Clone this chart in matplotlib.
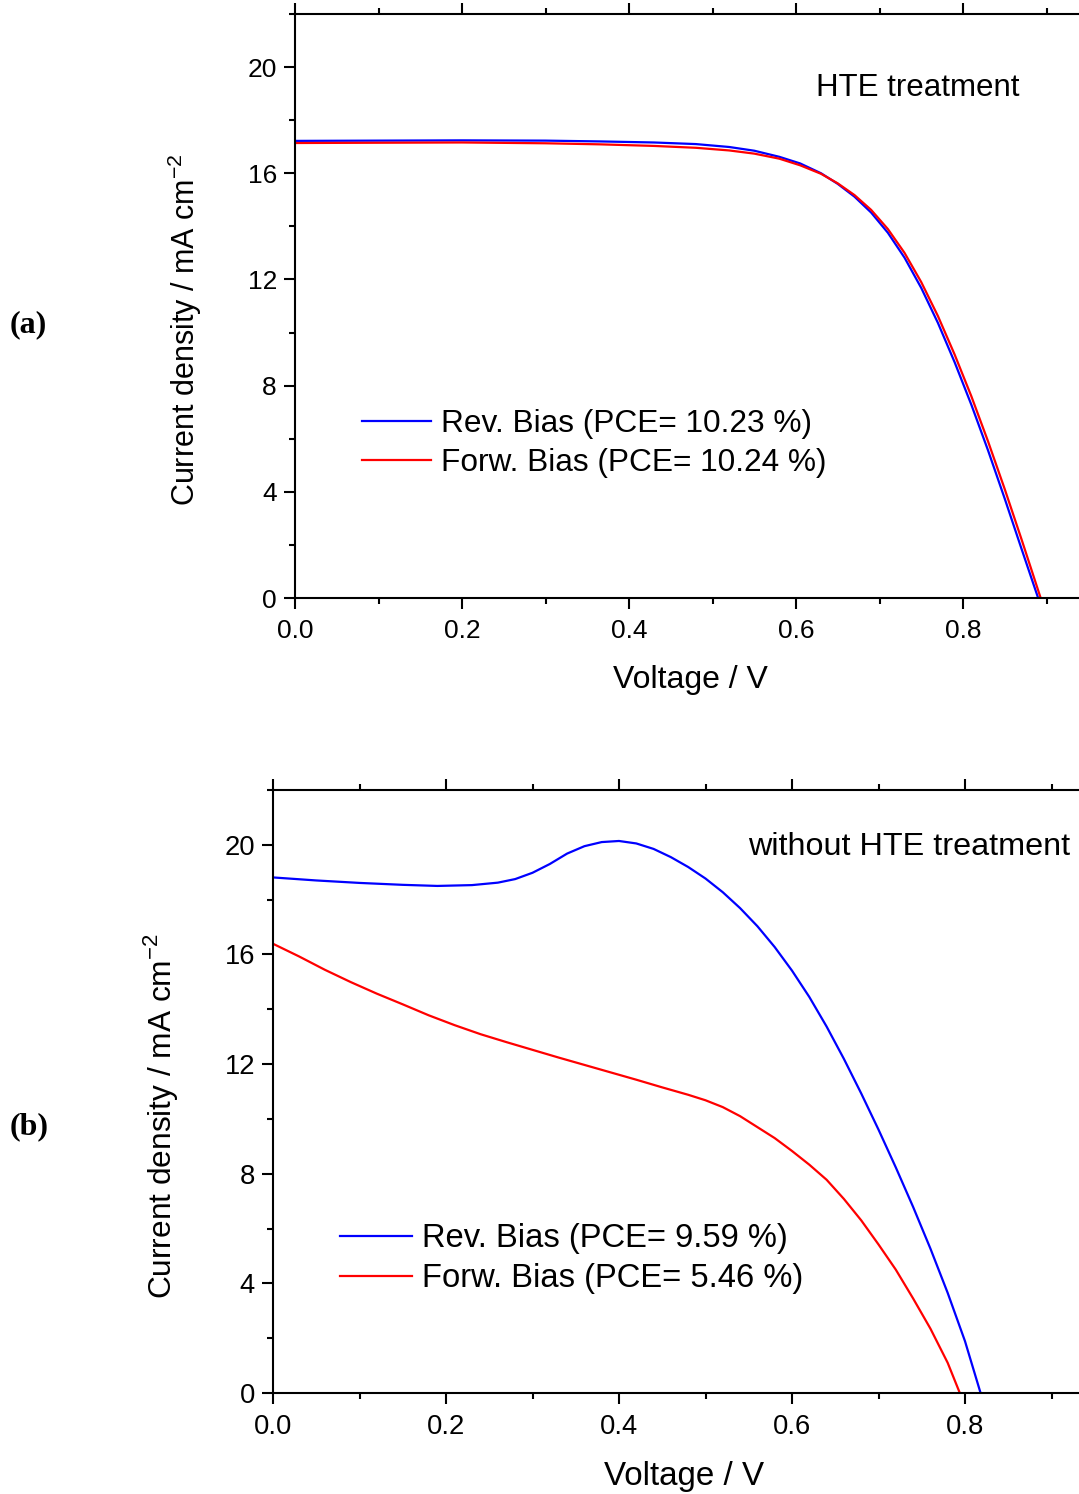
import numpy as np
import matplotlib
matplotlib.use("Agg")
import matplotlib.pyplot as plt
from matplotlib.ticker import MultipleLocator

plt.rcParams['font.family'] = ['Liberation Sans', 'DejaVu Sans']
plt.rcParams['mathtext.fontset'] = 'custom'
plt.rcParams['mathtext.rm'] = 'Liberation Sans'

# (a) with HTE treatment
va_rev = [0, 0.1, 0.2, 0.3, 0.365, 0.43, 0.48, 0.52, 0.55, 0.58, 0.605, 0.63, 0.65, 0.67,
          0.69, 0.71, 0.73, 0.75, 0.77, 0.79, 0.81, 0.83, 0.85, 0.87, 0.89]
ja_rev = [17.22, 17.23, 17.24, 17.23, 17.20, 17.16, 17.10, 16.99, 16.85, 16.62, 16.37, 16.0, 15.6, 15.12,
          14.52, 13.76, 12.82, 11.68, 10.36, 8.88, 7.28, 5.56, 3.74, 1.86, 0.0]
va_fwd = [0, 0.1, 0.2, 0.3, 0.365, 0.43, 0.48, 0.52, 0.55, 0.58, 0.605, 0.63, 0.65, 0.67,
          0.69, 0.71, 0.73, 0.75, 0.77, 0.79, 0.81, 0.83, 0.85, 0.87, 0.893]
ja_fwd = [17.14, 17.15, 17.16, 17.13, 17.09, 17.03, 16.96, 16.86, 16.74, 16.55, 16.3, 15.98, 15.62, 15.18,
          14.62, 13.9, 13.0, 11.9, 10.62, 9.17, 7.6, 5.9, 4.1, 2.22, 0.0]

# (b) without HTE treatment
vb_rev = [0, 0.05, 0.1, 0.15, 0.19, 0.23, 0.26, 0.28, 0.30, 0.32, 0.34, 0.36, 0.38, 0.40, 0.42,
          0.44, 0.46, 0.48, 0.50, 0.52, 0.54, 0.56, 0.58, 0.60, 0.62, 0.64, 0.66, 0.68, 0.70,
          0.72, 0.74, 0.76, 0.78, 0.80, 0.818]
jb_rev = [18.81, 18.70, 18.61, 18.54, 18.50, 18.53, 18.62, 18.75, 18.98, 19.3, 19.68, 19.95, 20.10, 20.14, 20.05,
          19.85, 19.55, 19.19, 18.77, 18.27, 17.69, 17.03, 16.27, 15.41, 14.45, 13.37, 12.19, 10.93, 9.61,
          8.23, 6.79, 5.27, 3.65, 1.89, 0.0]
vb_fwd = [0, 0.03, 0.06, 0.09, 0.12, 0.15, 0.18, 0.21, 0.24, 0.27, 0.30, 0.33, 0.36, 0.39, 0.42,
          0.45, 0.48, 0.50, 0.52, 0.54, 0.56, 0.58, 0.60, 0.62, 0.64, 0.66, 0.68, 0.70, 0.72,
          0.74, 0.76, 0.78, 0.794]
jb_fwd = [16.39, 15.93, 15.44, 14.99, 14.57, 14.18, 13.78, 13.42, 13.09, 12.80, 12.52, 12.24, 11.97, 11.70, 11.43,
          11.15, 10.88, 10.68, 10.43, 10.10, 9.70, 9.30, 8.83, 8.33, 7.78, 7.08, 6.30, 5.42, 4.5,
          3.45, 2.35, 1.1, 0.0]

labels_a = ['Rev. Bias (PCE= 10.23 %)', 'Forw. Bias (PCE= 10.24 %)']
labels_b = ['Rev. Bias (PCE= 9.59 %)', 'Forw. Bias (PCE= 5.46 %)']

W, H = 1079, 1494
fig = plt.figure(figsize=(W / 100, H / 100), dpi=100)


def px(x, y):
    return x / W, 1 - y / H


def make_panel(left, top, bottom, xmax, sc, vr, jr, vf, jf, labels, note, note_xy,
               leg_xy, ylab_xy, xlab_xy, tag, tag_xy):
    l, t = px(left, top)
    _, b = px(left, bottom)
    ax = fig.add_axes([l, b, 1 - l, t - b])
    ax.plot(vr, jr, color='#0000ff', lw=1.6, label=labels[0])
    ax.plot(vf, jf, color='#ff0000', lw=1.6, label=labels[1])
    ax.set_xlim(0, xmax)
    ax.set_ylim(0, 22)
    ax.xaxis.set_major_locator(MultipleLocator(0.2))
    ax.xaxis.set_minor_locator(MultipleLocator(0.1))
    ax.yaxis.set_major_locator(MultipleLocator(4))
    ax.yaxis.set_minor_locator(MultipleLocator(2))
    ax.xaxis.set_major_formatter(lambda v, p: f'{v:.1f}')
    ax.spines['right'].set_visible(False)
    for s in ['left', 'bottom', 'top']:
        ax.spines[s].set_linewidth(1.5)
    ax.tick_params(which='major', direction='out', length=8, width=1.5,
                   labelsize=19 * sc, pad=5)
    ax.tick_params(which='minor', direction='out', length=4.5, width=1.5)
    ax.tick_params(axis='x', which='both', top=True, labeltop=False)
    ax.tick_params(axis='x', which='major', pad=7)
    ax.xaxis.set_tick_params(which='both', length=2, top=True, bottom=False)
    ax.tick_params(axis='x', which='major', bottom=True, length=8)
    ax.tick_params(axis='x', which='minor', bottom=True, length=4.5)
    ax.text(*px(*note_xy), note, transform=fig.transFigure, fontsize=22.5 * sc,
            ha='right', va='center')
    ax.legend(loc='upper left', bbox_to_anchor=px(*leg_xy), bbox_transform=fig.transFigure,
              frameon=False, fontsize=22.8 * sc, handlelength=2.19, handletextpad=0.31,
              labelspacing=0.28, borderpad=0, borderaxespad=0)
    fig.text(*px(*ylab_xy), 'Current density / mA cm$^{-2}$', rotation=90,
             fontsize=22 * sc, ha='center', va='center')
    fig.text(*px(*xlab_xy), 'Voltage / V', fontsize=23 * sc, ha='center', va='center')
    fig.text(*px(*tag_xy), '(' + tag + ')', family='Liberation Serif', fontweight='bold',
             fontsize=23, ha='left', va='center')
    return ax


make_panel(295, 14, 598, (W - 295) / 835, 1.0, va_rev, ja_rev, va_fwd, ja_fwd, labels_a,
           'HTE treatment', (1020, 88), (362, 409), (185, 330), (690, 680), 'a', (10, 325))
make_panel(273, 790, 1393, (W - 273) / 865, 1.036, vb_rev, jb_rev, vb_fwd, jb_fwd, labels_b,
           'without HTE treatment', (1070, 847), (340, 1223), (160, 1116), (684, 1477), 'b', (10, 1127))

fig.savefig('out.png', dpi=100)
